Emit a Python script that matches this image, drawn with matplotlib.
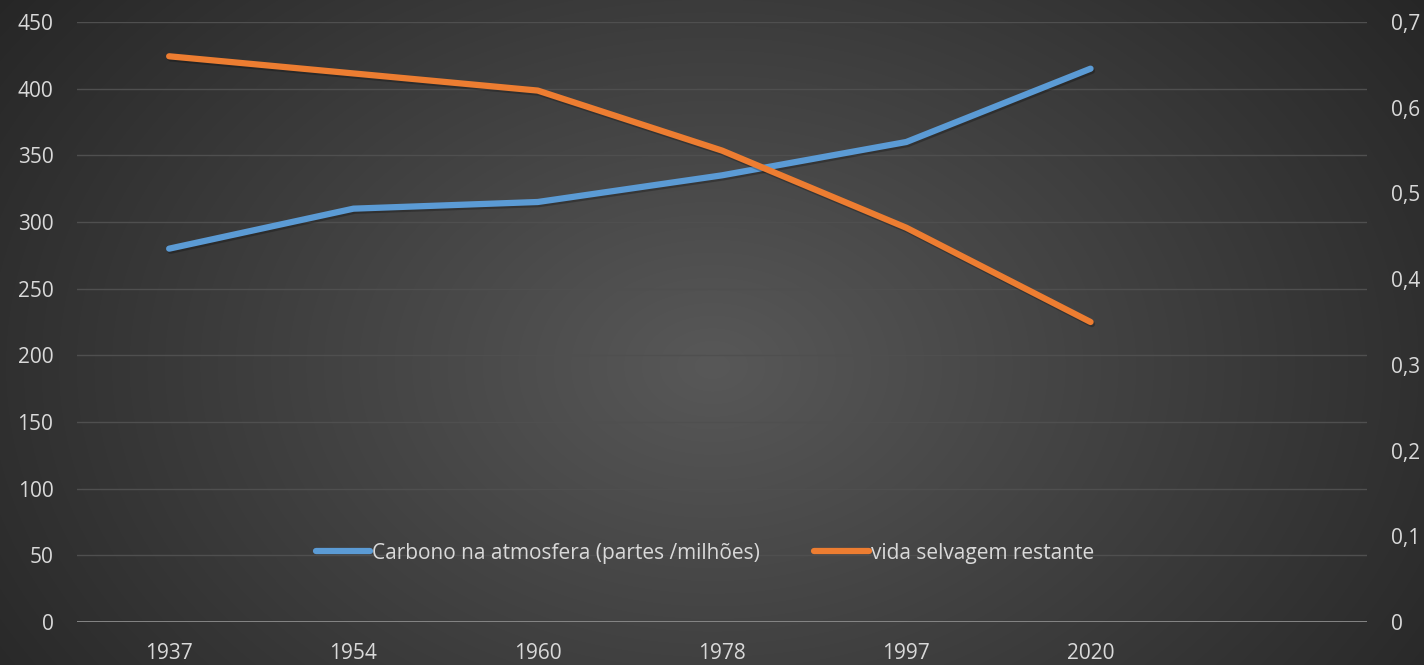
import numpy as np
import matplotlib
matplotlib.use("Agg")
import matplotlib.pyplot as plt
import matplotlib.patheffects as pe

categories = ["1937", "1954", "1960", "1978", "1997", "2020", ""]
carbon = [280, 310, 315, 335, 360, 415]
wildlife = [0.66, 0.64, 0.62, 0.55, 0.46, 0.35]
left_ticks = [0, 50, 100, 150, 200, 250, 300, 350, 400, 450]
right_ticks = [0, 0.1, 0.2, 0.3, 0.4, 0.5, 0.6, 0.7]
right_labels = ["0", "0,1", "0,2", "0,3", "0,4", "0,5", "0,6", "0,7"]
series_names = ["Carbono na atmosfera (partes /milhões)", "vida selvagem restante"]

W, H = 1424, 665
fig = plt.figure(figsize=(W / 100, H / 100), dpi=100)
plt.rcParams['font.family'] = ['Open Sans', 'DejaVu Sans']

# radial gradient background
bg = fig.add_axes([0, 0, 1, 1])
yy, xx = np.mgrid[0:H, 0:W]
cx, cy = W * 0.5, H * 0.55
r = np.sqrt(((xx - cx) / (W * 0.62)) ** 2 + ((yy - cy) / (H * 0.95)) ** 2)
r = np.clip(r, 0, 1)
c0 = np.array([0x58, 0x58, 0x58]) / 255
c1 = np.array([0x26, 0x26, 0x26]) / 255
img = c0[None, None, :] * (1 - r[..., None]) + c1[None, None, :] * r[..., None]
bg.imshow(img, aspect='auto', extent=[0, 1, 0, 1])
bg.axis('off')

ax = fig.add_axes([77 / W, 1 - 622 / H, (1367 - 77) / W, 600 / H])
ax.patch.set_alpha(0)
ax2 = ax.twinx()
ax2.patch.set_alpha(0)

x = np.arange(len(categories))
xs = x[:len(carbon)]
txt = '#d9d9d9'
shadow = [pe.SimpleLineShadow(offset=(1.0, -1.5), alpha=0.25, shadow_color='black'), pe.Normal()]
l1, = ax.plot(xs, carbon, color='#5b9bd5', lw=4.5, solid_capstyle='round',
              solid_joinstyle='round', path_effects=shadow, zorder=3)
l2, = ax2.plot(xs, wildlife, color='#ed7d31', lw=4.5, solid_capstyle='round',
               solid_joinstyle='round', path_effects=shadow, zorder=3)

ax.set_xlim(-0.5, len(categories) - 0.5)
ax.set_ylim(0, 450)
ax2.set_ylim(0, 0.7)
ax.set_yticks(left_ticks)
ax.set_yticklabels([str(v) for v in left_ticks])
ax2.set_yticks(right_ticks)
ax2.set_yticklabels(right_labels)
ax.set_xticks(x)
ax.set_xticklabels(categories)

for a in (ax, ax2):
    for s in a.spines.values():
        s.set_visible(False)
    a.tick_params(length=0, colors=txt, labelsize=15)
ax.tick_params(axis='y', pad=17)
ax2.tick_params(axis='y', pad=17)
ax.tick_params(axis='x', pad=15)

ax.grid(axis='y', color='#4f4f4f', lw=1)
ax.set_axisbelow(True)
ax.axhline(0, color='#8c8c8c', lw=2, zorder=2)

leg = ax.legend([l1, l2], series_names, loc='center', bbox_to_anchor=((705 - 77) / 1290, (622 - 553) / 600),
                ncol=2, frameon=False, fontsize=15, labelcolor=txt, handlelength=2.6,
                handletextpad=0.1, columnspacing=2.6)
for h in leg.legend_handles:
    h.set_path_effects([])
    h.set_solid_capstyle('round')

fig.savefig('out.png', dpi=100)
